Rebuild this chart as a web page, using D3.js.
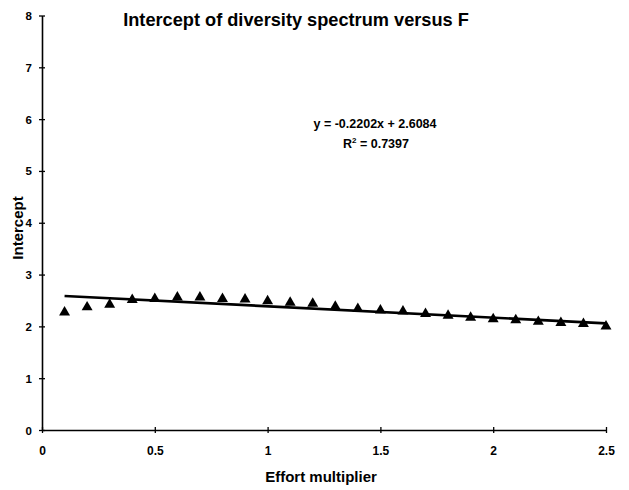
<!DOCTYPE html>
<html>
<head>
<meta charset="utf-8">
<script src="https://cdn.jsdelivr.net/npm/d3@7"></script>
<style>
  html, body { margin: 0; padding: 0; background: #fff; }
  svg { display: block; font-family: "Liberation Sans", Arial, sans-serif; }
</style>
</head>
<body>
<svg id="chart" width="629" height="490"></svg>
<script>
// Effort multiplier (F) values
const effort = [0.1, 0.2, 0.3, 0.4, 0.5, 0.6, 0.7, 0.8, 0.9, 1.0, 1.1, 1.2, 1.3,
                1.4, 1.5, 1.6, 1.7, 1.8, 1.9, 2.0, 2.1, 2.2, 2.3, 2.4, 2.5];
// Intercept of the diversity spectrum at each effort level
const intercept = [2.27, 2.37, 2.42, 2.51, 2.53, 2.56, 2.56, 2.53, 2.52, 2.49, 2.46, 2.44, 2.38,
                   2.34, 2.31, 2.29, 2.24, 2.21, 2.17, 2.14, 2.12, 2.09, 2.07, 2.05, 2.00];
// Linear trend
const trendSlope = -0.2202;
const trendIntercept = 2.6084;
const rSquared = 0.7397;
const xTicks = [0, 0.5, 1, 1.5, 2, 2.5];
const yTicks = [0, 1, 2, 3, 4, 5, 6, 7, 8];

const svg = d3.select("#chart");
const x = d3.scaleLinear().domain([0, 2.5]).range([42, 606]);
const y = d3.scaleLinear().domain([0, 8]).range([430, 15.5]);

// axes
const xAxis = svg.append("g").attr("transform", `translate(0,${y(0)})`)
  .call(d3.axisBottom(x).tickValues(xTicks).tickSize(0).tickPadding(0)
        .tickFormat(d => d3.format("")(d)));
const yAxis = svg.append("g").attr("transform", `translate(${x(0)},0)`)
  .call(d3.axisLeft(y).tickValues(yTicks).tickSize(0).tickPadding(0));

[xAxis, yAxis].forEach(g => {
  g.select(".domain").attr("stroke", "#000").attr("stroke-width", 1.6);
  g.selectAll("text").attr("fill", "#000").attr("font-weight", "bold")
    .attr("font-size", 11.5).attr("font-family", "'Liberation Sans', Arial, sans-serif");
});
// ticks crossing the axis line
xAxis.selectAll(".tick line").attr("y1", -3).attr("y2", 3).attr("stroke", "#000").attr("stroke-width", 1.3);
yAxis.selectAll(".tick line").attr("x1", -3).attr("x2", 3).attr("stroke", "#000").attr("stroke-width", 1.3);
xAxis.selectAll(".tick text").attr("dy", null).attr("y", 25).attr("font-size", 12);
yAxis.selectAll(".tick text").attr("x", -10).attr("dy", "0.35em");

// triangle markers
const tri = d3.symbol().type(d3.symbolTriangle).size(52);
svg.append("g").selectAll("path")
  .data(effort.map((e, i) => [e, intercept[i]]))
  .join("path")
  .attr("d", tri)
  .attr("transform", d => `translate(${x(d[0])},${y(d[1])})`)
  .attr("fill", "#000");

// trend line
const x0 = effort[0], x1 = effort[effort.length - 1];
svg.append("line")
  .attr("x1", x(x0)).attr("y1", y(trendSlope * x0 + trendIntercept))
  .attr("x2", x(x1)).attr("y2", y(trendSlope * x1 + trendIntercept))
  .attr("stroke", "#000").attr("stroke-width", 2.6);

// equation
const eq = svg.append("g").attr("font-weight", "bold").attr("font-size", 12.5)
  .attr("text-anchor", "middle").attr("fill", "#000");
eq.append("text").attr("x", 375).attr("y", 128)
  .text(`y = ${trendSlope}x + ${trendIntercept}`);
const r2 = eq.append("text").attr("x", 376).attr("y", 148);
r2.append("tspan").text("R");
r2.append("tspan").attr("font-size", 8).attr("dy", -5).text("2");
r2.append("tspan").attr("dy", 5).text(` = ${rSquared}`);

// title and axis labels
svg.append("text").attr("x", 296).attr("y", 26).attr("text-anchor", "middle")
  .attr("font-weight", "bold").attr("font-size", 18.2)
  .text("Intercept of diversity spectrum versus F");
svg.append("text").attr("x", 321).attr("y", 482).attr("text-anchor", "middle")
  .attr("font-weight", "bold").attr("font-size", 15)
  .text("Effort multiplier");
svg.append("text").attr("transform", "translate(23,228) rotate(-90)")
  .attr("text-anchor", "middle").attr("font-weight", "bold").attr("font-size", 15)
  .text("Intercept");
</script>
</body>
</html>
